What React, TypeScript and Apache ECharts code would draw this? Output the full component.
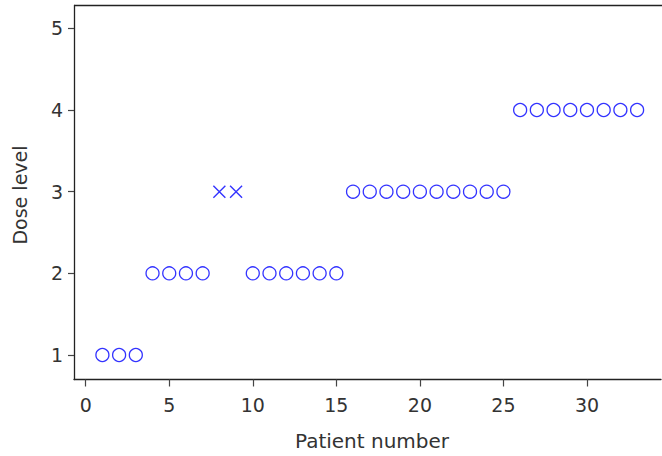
import React, { useEffect, useRef } from "react";
import * as echarts from "echarts";

const circlePatients = [1, 2, 3, 4, 5, 6, 7, 10, 11, 12, 13, 14, 15, 16, 17, 18, 19, 20, 21, 22, 23, 24, 25, 26, 27, 28, 29, 30, 31, 32, 33];
const circleDoses = [1, 1, 1, 2, 2, 2, 2, 2, 2, 2, 2, 2, 2, 3, 3, 3, 3, 3, 3, 3, 3, 3, 3, 4, 4, 4, 4, 4, 4, 4, 4];
const crossPatients = [8, 9];
const crossDoses = [3, 3];
const xTicks = [0, 5, 10, 15, 20, 25, 30];
const yTicks = [1, 2, 3, 4, 5];
const xTitle = "Patient number";
const yTitle = "Dose level";

const FONT = "DejaVu Sans";
const BLUE = "#0000ff";

export default function App() {
  const ref = useRef<HTMLDivElement>(null);
  useEffect(() => {
    if (!ref.current) return;
    const chart = echarts.init(ref.current, null, { renderer: "svg" });
    const circles = circlePatients.map((p, i) => [p, circleDoses[i]]);
    const crosses = crossPatients.map((p, i) => [p, crossDoses[i]]);
    chart.setOption({
      animation: false,
      backgroundColor: "#ffffff",
      grid: {
        left: 74,
        top: 5.5,
        right: 1,
        height: 374,
        show: false,
      },
      xAxis: {
        type: "value",
        min: -0.7,
        max: 34.43,
        splitLine: { show: false },
        axisLine: { show: true, onZero: false, lineStyle: { color: "#222", width: 1.3 } },
        axisTick: { show: true, length: 7, customValues: xTicks, lineStyle: { color: "#444", width: 1.2 } },
        axisLabel: {
          customValues: xTicks,
          margin: 16,
          fontFamily: FONT,
          fontSize: 19,
          color: "#333",
        },
      },
      yAxis: {
        type: "value",
        min: 0.7,
        max: 5.28,
        splitLine: { show: false },
        axisLine: { show: true, onZero: false, lineStyle: { color: "#222", width: 1.3 } },
        axisTick: { show: true, length: 6, customValues: yTicks, lineStyle: { color: "#444", width: 1.2 } },
        axisLabel: {
          customValues: yTicks,
          margin: 11,
          fontFamily: FONT,
          fontSize: 19,
          color: "#333",
        },
      },
      graphic: [
        {
          type: "line",
          shape: { x1: 74, y1: 5.5, x2: 662, y2: 5.5 },
          style: { stroke: "#222", lineWidth: 1.3 },
        },
        {
          type: "text",
          x: 372,
          y: 441,
          style: {
            text: xTitle,
            fontFamily: FONT,
            fontSize: 20,
            fill: "#333",
            align: "center",
            verticalAlign: "middle",
          },
        },
        {
          type: "text",
          x: 20,
          y: 195,
          rotation: Math.PI / 2,
          style: {
            text: yTitle,
            fontFamily: FONT,
            fontSize: 19,
            fill: "#333",
            align: "center",
            verticalAlign: "middle",
          },
        },
      ],
      series: [
        {
          type: "scatter",
          data: circles,
          symbol: "circle",
          symbolSize: 13,
          itemStyle: { color: "none", borderColor: BLUE, borderWidth: 1.3 },
        },
        {
          type: "scatter",
          data: crosses,
          symbol: "path://M0,0L10,10M10,0L0,10",
          symbolSize: 12,
          itemStyle: { color: "none", borderColor: BLUE, borderWidth: 1.4 },
        },
      ],
    });
    return () => chart.dispose();
  }, []);
  return <div ref={ref} style={{ width: 662, height: 456, position: "absolute", left: 0, top: 0 }} />;
}
